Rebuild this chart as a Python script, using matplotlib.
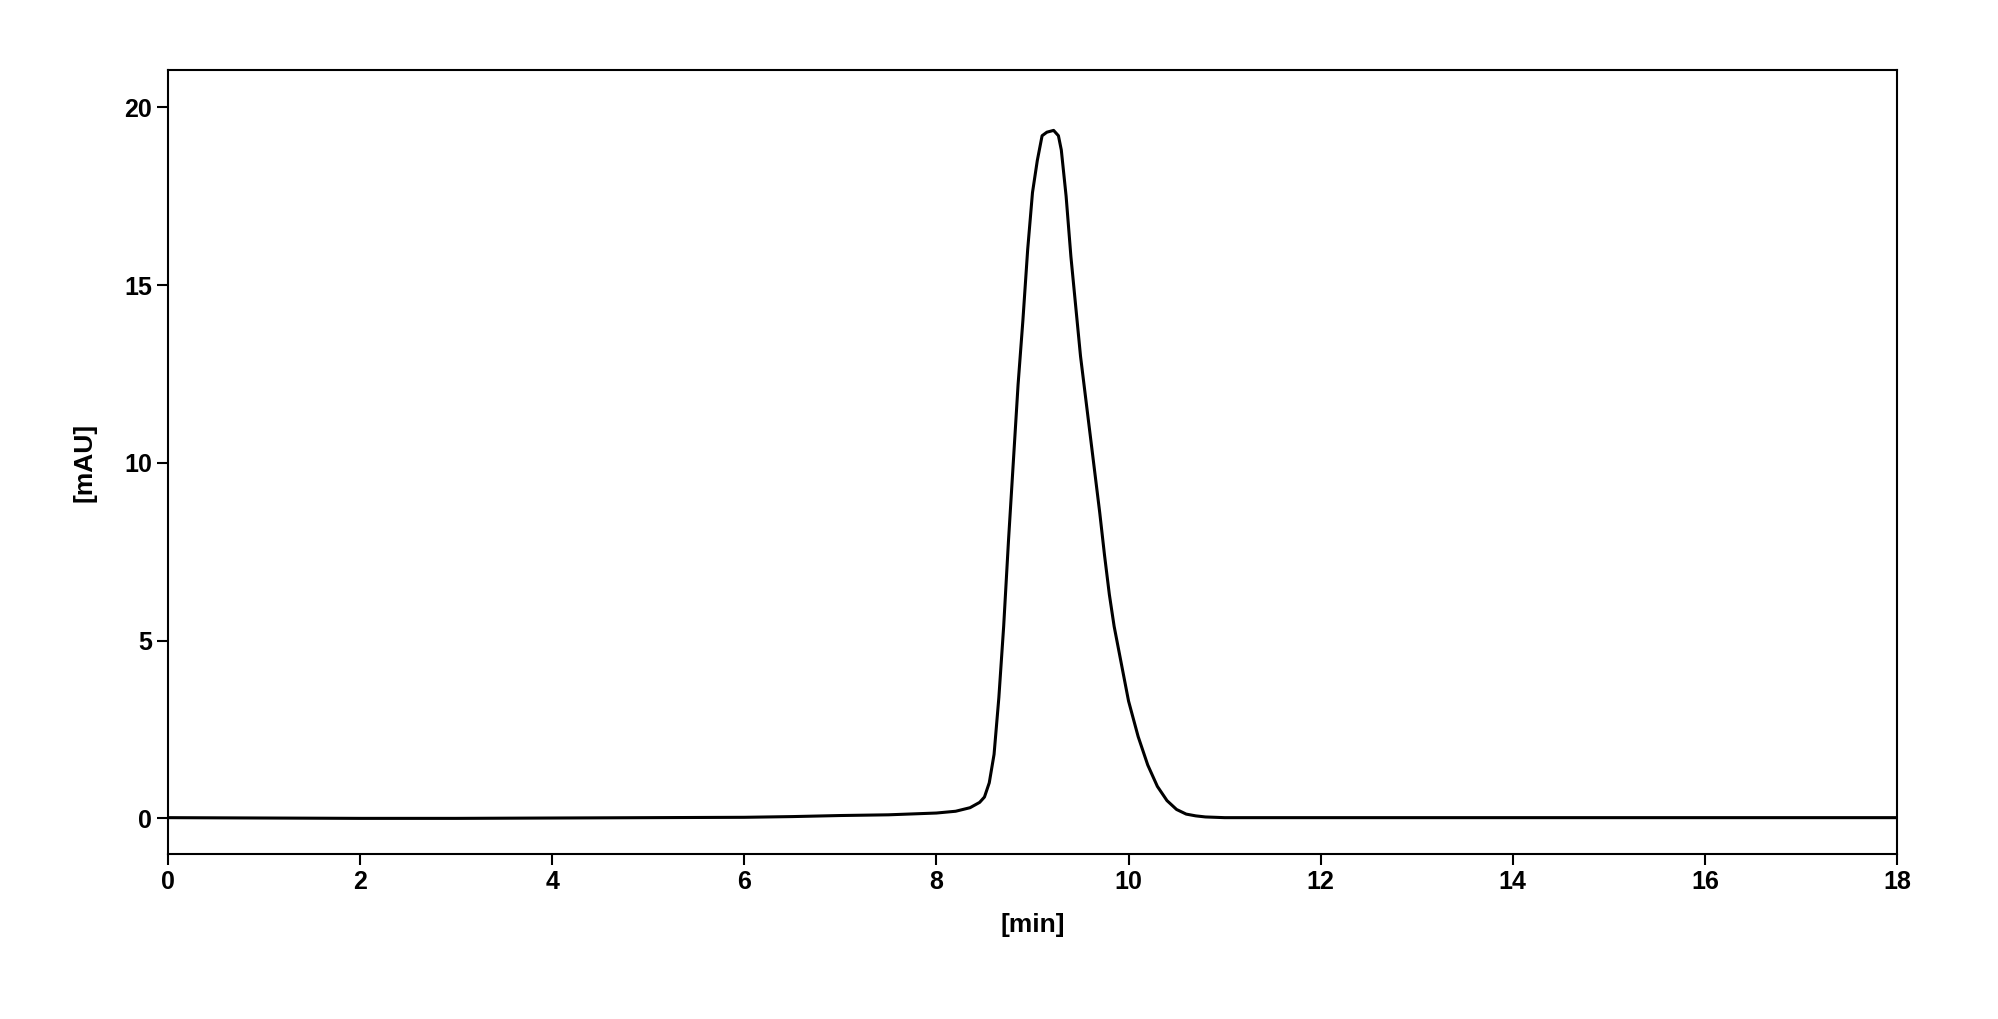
import numpy as np
import matplotlib.pyplot as plt

# chromatogram trace
t_min = [0, 1, 2, 3, 4, 5, 6, 6.5, 7, 7.5, 8, 8.2, 8.35, 8.45, 8.5, 8.55, 8.6, 8.65, 8.7,
         8.75, 8.8, 8.85, 8.9, 8.95, 9.0, 9.05, 9.1, 9.15, 9.22, 9.27, 9.3, 9.35, 9.4,
         9.45, 9.5, 9.55, 9.6, 9.65, 9.7, 9.75, 9.8, 9.85, 9.9, 9.95, 10.0, 10.1, 10.2,
         10.3, 10.4, 10.5, 10.6, 10.7, 10.8, 11.0, 12, 14, 16, 18]
mau = [0.02, 0.01, 0.0, 0.0, 0.01, 0.02, 0.03, 0.05, 0.08, 0.1, 0.15, 0.2, 0.3, 0.45,
       0.6, 1.0, 1.8, 3.4, 5.4, 7.8, 10.0, 12.2, 14.0, 16.0, 17.6, 18.5, 19.2, 19.3,
       19.35, 19.2, 18.8, 17.5, 15.8, 14.4, 13.0, 11.9, 10.8, 9.7, 8.6, 7.4, 6.3,
       5.4, 4.7, 4.0, 3.3, 2.3, 1.5, 0.9, 0.5, 0.25, 0.12, 0.07, 0.04, 0.02, 0.02,
       0.02, 0.02, 0.02]

fig = plt.figure(figsize=(19.99, 10.19), dpi=100)
ax = fig.add_axes([0.084, 0.162, 0.865, 0.769])
ax.plot(t_min, mau, color='black', lw=2.2)
ax.set_xlim(0, 18)
ax.set_ylim(-1, 21.04)
ax.set_xticks(range(0, 19, 2))
ax.set_yticks([0, 5, 10, 15, 20])
ax.tick_params(direction='out', length=8, width=1.5, labelsize=18)
for lbl in ax.get_xticklabels() + ax.get_yticklabels():
    lbl.set_fontfamily('Liberation Sans')
    lbl.set_fontweight('bold')
for s in ax.spines.values():
    s.set_linewidth(1.5)
ax.set_xlabel('[min]', fontsize=19, fontweight='bold', family='Liberation Sans', labelpad=14)
ax.set_ylabel('[mAU]', fontsize=19, fontweight='bold', family='Liberation Sans', labelpad=20)
fig.savefig('out.png', dpi=100)
